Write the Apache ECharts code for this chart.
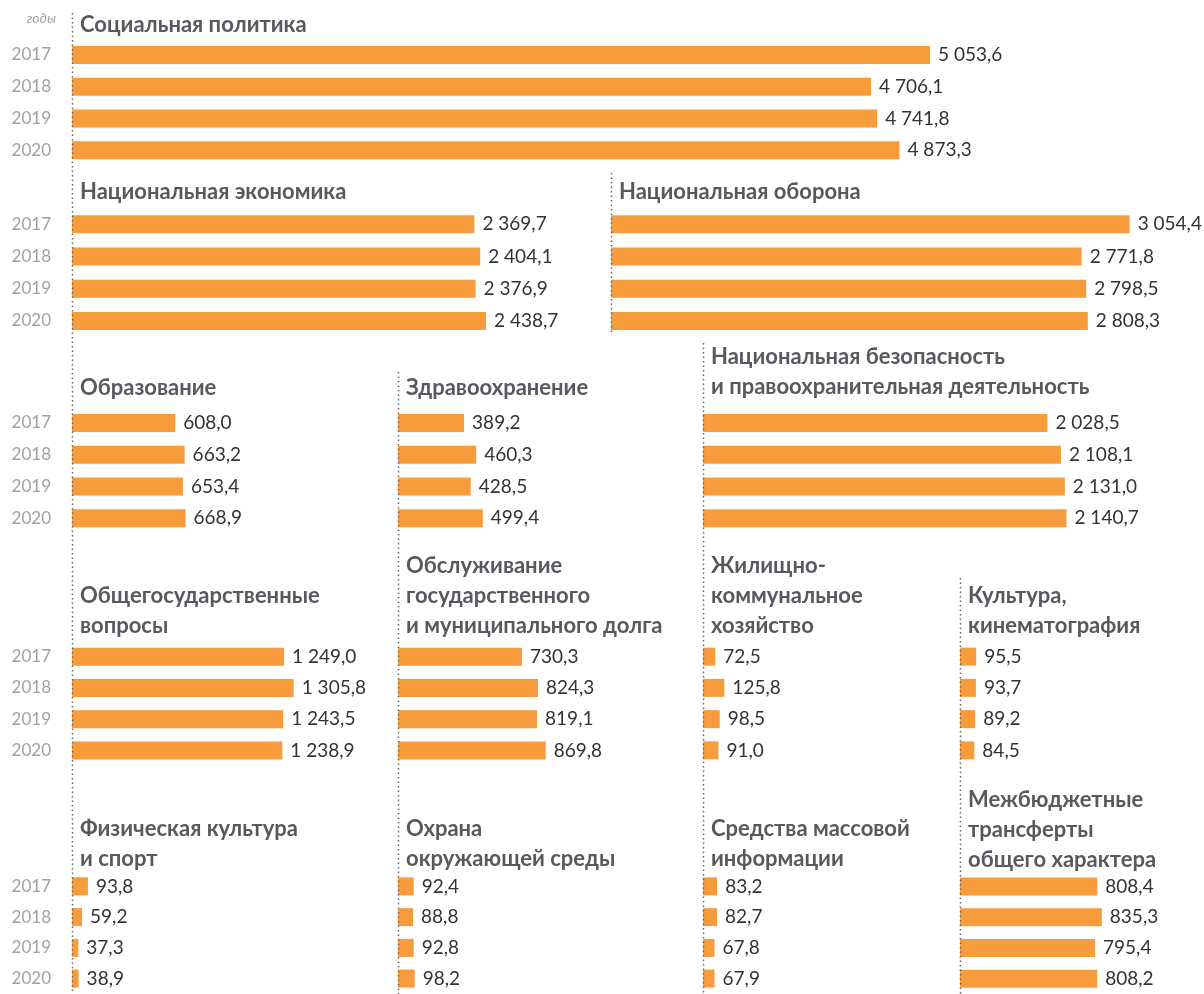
<!DOCTYPE html>
<html>
<head>
<meta charset="utf-8">
<script src="https://cdn.jsdelivr.net/npm/echarts@6/dist/echarts.min.js"></script>
<style>
html,body{margin:0;padding:0;background:#fff;}
#chart{width:1204px;height:994px;}
</style>
</head>
<body>
<div id="chart"></div>
<script>
// ---- data ----
const years = ['2017', '2018', '2019', '2020'];
const yearsCaption = 'годы';

const socialPolicy      = [5053.6, 4706.1, 4741.8, 4873.3];
const nationalEconomy   = [2369.7, 2404.1, 2376.9, 2438.7];
const nationalDefense   = [3054.4, 2771.8, 2798.5, 2808.3];
const education         = [608.0, 663.2, 653.4, 668.9];
const healthcare        = [389.2, 460.3, 428.5, 499.4];
const nationalSecurity  = [2028.5, 2108.1, 2131.0, 2140.7];
const generalIssues     = [1249.0, 1305.8, 1243.5, 1238.9];
const debtService       = [730.3, 824.3, 819.1, 869.8];
const housingUtilities  = [72.5, 125.8, 98.5, 91.0];
const culture           = [95.5, 93.7, 89.2, 84.5];
const sport             = [93.8, 59.2, 37.3, 38.9];
const environment       = [92.4, 88.8, 92.8, 98.2];
const massMedia         = [83.2, 82.7, 67.8, 67.9];
const transfers         = [808.4, 835.3, 795.4, 808.2];

const panelTitles = [
  'Социальная политика',
  'Национальная экономика',
  'Национальная оборона',
  'Образование',
  'Здравоохранение',
  'Национальная безопасность\nи правоохранительная деятельность',
  'Общегосударственные\nвопросы',
  'Обслуживание\nгосударственного\nи муниципального долга',
  'Жилищно-\nкоммунальное\nхозяйство',
  'Культура,\nкинематография',
  'Физическая культура\nи спорт',
  'Охрана\nокружающей среды',
  'Средства массовой\nинформации',
  'Межбюджетные\nтрансферты\nобщего характера'
];
const panelValues = [
  socialPolicy, nationalEconomy, nationalDefense,
  education, healthcare, nationalSecurity,
  generalIssues, debtService, housingUtilities, culture,
  sport, environment, massMedia, transfers
];

// ---- layout (positions only) ----
const PX_PER_UNIT = 0.1698;
const layout = [
  {left: 72,  top: 39,  height: 127, width: 1000, titleTop: 10},
  {left: 72,  top: 208, height: 129, width: 520,  titleTop: 177},
  {left: 611, top: 208, height: 129, width: 590,  titleTop: 177},
  {left: 72,  top: 407, height: 127, width: 300,  titleTop: 373},
  {left: 398, top: 407, height: 127, width: 290,  titleTop: 373},
  {left: 703, top: 407, height: 127, width: 490,  titleTop: 342},
  {left: 72,  top: 641, height: 125, width: 300,  titleTop: 581},
  {left: 398, top: 641, height: 125, width: 290,  titleTop: 551},
  {left: 703, top: 641, height: 125, width: 240,  titleTop: 551},
  {left: 960, top: 641, height: 125, width: 240,  titleTop: 581},
  {left: 72,  top: 871, height: 128, width: 300,  titleTop: 814},
  {left: 398, top: 871, height: 128, width: 290,  titleTop: 814},
  {left: 703, top: 871, height: 128, width: 240,  titleTop: 814},
  {left: 960, top: 871, height: 128, width: 240,  titleTop: 785}
];
const dottedLines = [
  {x: 72.5,  y1: 13,  y2: 994},
  {x: 611.5, y1: 173, y2: 332},
  {x: 398.5, y1: 372, y2: 994},
  {x: 703.5, y1: 343, y2: 994},
  {x: 960.5, y1: 578, y2: 994}
];

const FONT = 'Lato, "Open Sans", "Noto Sans", sans-serif';
const BAR = '#F69C3D';

function fmt(v) {
  const s = v.toFixed(1).split('.');
  const int = s[0].replace(/\B(?=(\d{3})+(?!\d))/g, ' ');
  return int + ',' + s[1];
}

const grid = [], xAxis = [], yAxis = [], series = [], title = [];
layout.forEach((L, i) => {
  grid.push({left: L.left, top: L.top, width: L.width, height: L.height, containLabel: false});
  xAxis.push({
    gridIndex: i, type: 'value', min: 0, max: L.width / PX_PER_UNIT,
    show: false
  });
  const firstCol = L.left === 72;
  yAxis.push({
    gridIndex: i, type: 'category', data: years, inverse: true,
    axisLine: {show: false}, axisTick: {show: false}, splitLine: {show: false},
    axisLabel: {
      show: firstCol, margin: 21, color: '#a2a2a2', fontSize: 17, fontFamily: FONT
    }
  });
  series.push({
    type: 'bar', xAxisIndex: i, yAxisIndex: i,
    data: panelValues[i], barWidth: 18,
    itemStyle: {color: BAR},
    label: {
      show: true, position: 'right', distance: 8,
      color: '#333333', fontSize: 19, fontFamily: FONT,
      formatter: p => fmt(p.value)
    },
    silent: true, animation: false
  });
  title.push({
    text: panelTitles[i], left: L.left + 8, top: L.titleTop, padding: 0,
    textStyle: {
      fontFamily: FONT, fontWeight: 'bold', fontSize: 22, color: '#58595e',
      lineHeight: 30
    }
  });
});
title.push({
  text: yearsCaption, right: 1204 - 56, top: 8, padding: 0,
  textStyle: {fontFamily: FONT, fontStyle: 'italic', fontWeight: 'normal', fontSize: 14, color: '#a5a5a5', lineHeight: 20}
});

const graphic = dottedLines.map(d => ({
  type: 'line', silent: true,
  shape: {x1: d.x, y1: d.y1, x2: d.x, y2: d.y2},
  style: {stroke: '#666', lineWidth: 1.5, lineDash: [1.5, 3]},
  z: 100
}));

const chart = echarts.init(document.getElementById('chart'), null, {renderer: 'canvas'});
chart.setOption({
  animation: false,
  backgroundColor: '#ffffff',
  title, grid, xAxis, yAxis, series, graphic
});
</script>
</body>
</html>
